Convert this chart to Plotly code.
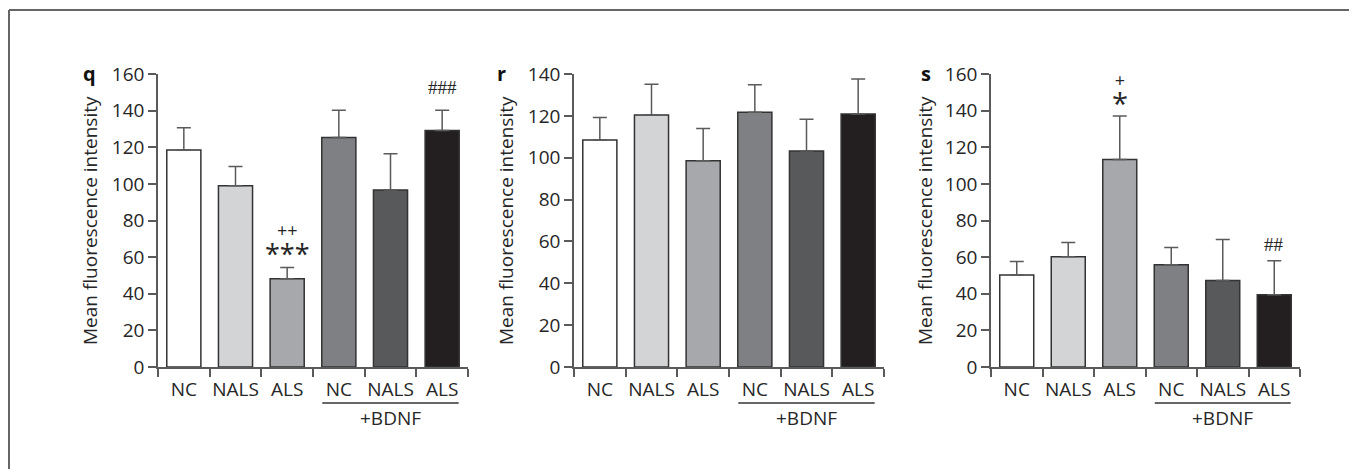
import plotly.graph_objects as go

W, H = 1357, 469
OFF = 8  # default page body margin of the html page


def px(x):
    return (x - OFF) / W


def py(y):
    return 1 - (y - OFF) / H


groups = ["NC", "NALS", "ALS", "NC", "NALS", "ALS"]
colors = ["#ffffff", "#d3d4d6", "#a7a8ab", "#7f8083", "#58595b", "#231f20"]

q_mean = [118.5, 99, 48.2, 125.3, 96.7, 129.1]
q_top = [130.7, 109.5, 54.4, 140.2, 116.5, 140.2]
r_mean = [108.5, 120.4, 98.6, 121.7, 103.2, 120.9]
r_top = [119.2, 135.1, 113.9, 134.9, 118.4, 137.6]
s_mean = [50.2, 60.2, 113.3, 55.8, 47.3, 39.5]
s_top = [57.6, 68.0, 137.1, 65.3, 69.6, 58.0]

panels = [
    ("q", q_mean, q_top, 160, (158, 468)),
    ("r", r_mean, r_top, 140, (574, 884)),
    ("s", s_mean, s_top, 160, (991, 1300)),
]

FONT = "Open Sans"
FS = 19
TXT = "#262626"
AX = "#5a5a5a"

fig = go.Figure()
xs = list(range(len(groups)))
ydom = [py(367), py(74)]

annotations = []
shapes = []


def ann(**kw):
    kw.setdefault("showarrow", False)
    kw.setdefault("xanchor", "center")
    kw.setdefault("yanchor", "middle")
    annotations.append(kw)


for i, (letter, mean, top, ymax, (px0, px1)) in enumerate(panels):
    sfx = "" if i == 0 else str(i + 1)
    err = [t - m for t, m in zip(top, mean)]
    fig.add_trace(go.Bar(
        x=xs, y=mean, xaxis="x" + sfx, yaxis="y" + sfx,
        marker=dict(color=colors, line=dict(color="#333333", width=1.5)),
        width=0.66,
        error_y=dict(type="data", symmetric=False, array=err,
                     arrayminus=[0] * len(err), color=AX, thickness=1.5, width=7),
        showlegend=False, hoverinfo="skip",
    ))
    fig.update_layout(**{
        "xaxis" + sfx: dict(
            domain=[px(px0), px(px1)], range=[-0.5, 5.5], anchor="y" + sfx,
            tickmode="array", tickvals=xs, ticktext=groups, ticks="",
            showline=True, linecolor=AX, linewidth=1.5, showgrid=False,
            zeroline=False, automargin=False,
            tickfont=dict(family=FONT, size=FS, color=TXT),
            ticklabelstandoff=4,
            minor=dict(tickmode="array", tickvals=[v - 0.5 for v in xs] + [5.5],
                       ticks="outside", ticklen=8, tickcolor=AX, tickwidth=1.5,
                       showgrid=False),
        ),
        "yaxis" + sfx: dict(
            domain=ydom, range=[0, ymax], anchor="x" + sfx, dtick=20,
            ticks="outside", ticklen=8, tickcolor=AX, tickwidth=1.5,
            showline=True, linecolor=AX, linewidth=1.5, showgrid=False,
            zeroline=False, automargin=False,
            tickfont=dict(family=FONT, size=FS, color=TXT),
        ),
    })
    # underline + BDNF
    shapes.append(dict(type="line", xref="x" + sfx, yref="paper",
                       x0=2.68, x1=5.32, y0=py(403), y1=py(403),
                       line=dict(color="#333333", width=1.5)))
    ann(text="+BDNF", xref="x" + sfx, yref="paper", x=4, y=py(418),
        font=dict(family=FONT, size=FS, color=TXT))

# panel letters and y titles
letter_x = [89, 501, 926]
title_x = [90, 506, 925]
for i, (letter, *_rest) in enumerate(panels):
    ann(text="<b>%s</b>" % letter, xref="paper", yref="paper",
        x=px(letter_x[i]), y=py(73), font=dict(family=FONT, size=20, color="#111111"))
    ann(text="Mean fluorescence intensity", xref="paper", yref="paper",
        x=px(title_x[i]), y=py(221), textangle=-90,
        font=dict(family=FONT, size=FS, color=TXT))

# significance marks (stacked marks drawn as one two-line text)
marks = [
    ("x", "y", 2, 66.5, "<span style='font-size:18px'>++</span><br>"
                        "<span style='font-size:27px'>***</span>", FONT, 21),
    ("x", "y", 5, 152.5, "###", "Liberation Serif", 19),
    ("x3", "y3", 2, 148.5, "<span style='font-size:18px'>+</span><br>"
                           "<span style='font-size:29px'>*</span>", FONT, 21),
    ("x3", "y3", 5, 67, "##", "Liberation Serif", 19),
]
for xr, yr, x, y, t, fam, sz in marks:
    ann(text=t, xref=xr, yref=yr, x=x, y=y, font=dict(family=fam, size=sz, color=TXT))

# frame (top and left edges)
shapes.append(dict(type="line", xref="paper", yref="paper",
                   x0=px(9), x1=1.02, y0=py(10), y1=py(10),
                   line=dict(color="#666666", width=2)))
shapes.append(dict(type="line", xref="paper", yref="paper",
                   x0=px(9), x1=px(9), y0=py(10), y1=-0.05,
                   line=dict(color="#666666", width=2)))

fig.update_layout(
    template="none",
    width=W, height=H, margin=dict(l=0, r=0, t=0, b=0, pad=0, autoexpand=False),
    plot_bgcolor="white", paper_bgcolor="white", showlegend=False,
    annotations=annotations, shapes=shapes, bargap=0.34,
)
fig.write_html("out.html")
